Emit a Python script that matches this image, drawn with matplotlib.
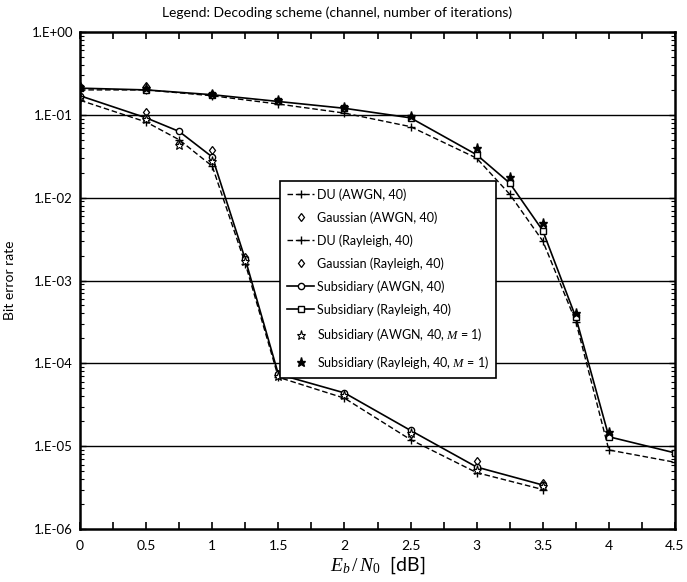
import numpy as np
import matplotlib
matplotlib.use('Agg')
import matplotlib.pyplot as plt
from matplotlib.ticker import FixedLocator, LogLocator, FuncFormatter, NullFormatter

plt.rcParams['font.family'] = ['Lato', 'DejaVu Sans']
plt.rcParams['mathtext.fontset'] = 'custom'
plt.rcParams['mathtext.it'] = 'Liberation Serif:italic'
plt.rcParams['mathtext.rm'] = 'Liberation Serif'

# Eb/N0 points [dB]
snr_awgn = [0, 0.5, 0.75, 1, 1.25, 1.5, 2, 2.5, 3, 3.5]
snr_ray = [0, 0.5, 1, 1.5, 2, 2.5, 3, 3.25, 3.5, 3.75, 4, 4.5]

# bit error rates
du_awgn = [0.15, 0.082, 0.05, 0.024, 0.0016, 6.8e-5, 3.8e-5, 1.2e-5, 4.8e-6, 3.0e-6]
gauss_awgn = [0.16, 0.109, 0.046, 0.038, 0.0019, 7.5e-5, 4.1e-5, 1.4e-5, 6.6e-6, 3.6e-6]
sub_awgn = [0.17, 0.092, 0.063, 0.031, 0.0018, 7.4e-5, 4.4e-5, 1.55e-5, 5.6e-6, 3.4e-6]
sub_awgn_m1 = [0.165, 0.088, 0.043, 0.028, 0.0017, 7.0e-5, 4.2e-5, 1.45e-5, 5.2e-6, 3.3e-6]

du_ray = [0.2, 0.2, 0.17, 0.135, 0.105, 0.072, 0.030, 0.011, 0.0030, 3.2e-4, 9.0e-6, 6.4e-6]
gauss_ray = [0.22, 0.22, 0.178, 0.145, 0.12, 0.095, 0.036, 0.016, 0.0045, 3.8e-4, 1.4e-5]
sub_ray = [0.21, 0.2, 0.175, 0.145, 0.12, 0.092, 0.033, 0.015, 0.0040, 3.6e-4, 1.3e-5, 8.3e-6]
sub_ray_m1 = [0.215, 0.21, 0.18, 0.15, 0.125, 0.097, 0.040, 0.018, 0.0050, 4.0e-4, 1.5e-5]

y_ticks = [1e-6, 1e-5, 1e-4, 1e-3, 1e-2, 1e-1, 1e0]

labels = ['DU (AWGN, 40)', 'Gaussian (AWGN, 40)', 'DU (Rayleigh, 40)',
          'Gaussian (Rayleigh, 40)', 'Subsidiary (AWGN, 40)',
          'Subsidiary (Rayleigh, 40)', 'Subsidiary (AWGN, 40, $M$ = 1)',
          'Subsidiary (Rayleigh, 40, $M$ = 1)']

fig = plt.figure(figsize=(6.87, 5.82), dpi=100)
ax = fig.add_axes([0.1165, 0.091, 0.866, 0.854])

dash = (0, (4, 2))
h1, = ax.plot(snr_awgn, du_awgn, color='k', ls=dash, lw=1, marker='+', ms=6, mew=1)
h2, = ax.plot(snr_awgn, gauss_awgn, ls='none', marker='d', ms=4.5, mfc='white', mec='k', mew=0.9)
h3, = ax.plot(snr_ray, du_ray, color='k', ls=dash, lw=1, marker='+', ms=6, mew=1)
h4, = ax.plot(snr_ray[:len(gauss_ray)], gauss_ray, ls='none', marker='d', ms=4.5,
              mfc='white', mec='k', mew=0.9)
h5, = ax.plot(snr_awgn, sub_awgn, color='k', ls='-', lw=1.2, marker='o', ms=4.5,
              mfc='white', mec='k', mew=1)
h6, = ax.plot(snr_ray, sub_ray, color='k', ls='-', lw=1.2, marker='s', ms=4.5,
              mfc='white', mec='k', mew=1)
h7, = ax.plot(snr_awgn, sub_awgn_m1, ls='none', marker='*', ms=6.5, mfc='white', mec='k', mew=0.8)
h8, = ax.plot(snr_ray[:len(sub_ray_m1)], sub_ray_m1, ls='none', marker='*', ms=6.5,
              mfc='k', mec='k')

ax.set_yscale('log')
ax.set_xlim(0, 4.5)
ax.set_ylim(1e-6, 1)

ax.xaxis.set_major_locator(FixedLocator(np.arange(0, 4.51, 0.25)))
ax.xaxis.set_major_formatter(FuncFormatter(
    lambda v, p: ('%g' % v) if abs(v * 2 - round(v * 2)) < 1e-6 else ''))
ax.yaxis.set_major_locator(FixedLocator(y_ticks))
ax.yaxis.set_minor_locator(LogLocator(base=10, subs=np.arange(2, 10), numticks=10))
ax.yaxis.set_minor_formatter(NullFormatter())
ax.yaxis.set_major_formatter(FuncFormatter(
    lambda v, p: '1.E%+03d' % int(round(np.log10(v)))))

ax.tick_params(axis='x', which='major', direction='in', length=5, width=1.2,
               top=True, labelsize=10, pad=8)
ax.tick_params(axis='y', which='major', direction='in', length=4, width=1,
               right=True, labelsize=9.5, pad=5)
ax.tick_params(axis='y', which='minor', direction='in', length=3, width=0.8, right=True)

for sp in ax.spines.values():
    sp.set_linewidth(1.8)

for e in y_ticks[1:-1]:
    ax.axhline(e, color='k', lw=1, zorder=0)

ax.set_xlabel('$E_b\\,/\\,N_0$  [dB]', fontsize=14, labelpad=2)
ax.set_ylabel('Bit error rate', fontsize=10)
ax.yaxis.set_label_coords(-0.108, 0.5)

fig.text(0.49, 0.978, 'Legend: Decoding scheme (channel, number of iterations)',
         ha='center', va='center', fontsize=10)

leg = ax.legend([h1, h2, h3, h4, h5, h6, h7, h8], labels,
                loc='upper left', bbox_to_anchor=(0.336, 0.7), fontsize=9,
                frameon=True, fancybox=False, shadow=False, handlelength=2.2,
                handletextpad=0.2, labelspacing=0.84, borderpad=0.55,
                borderaxespad=0)
leg.get_frame().set_edgecolor('k')
leg.get_frame().set_linewidth(1.2)
leg.get_frame().set_alpha(1)

fig.savefig('out.png', dpi=100)
